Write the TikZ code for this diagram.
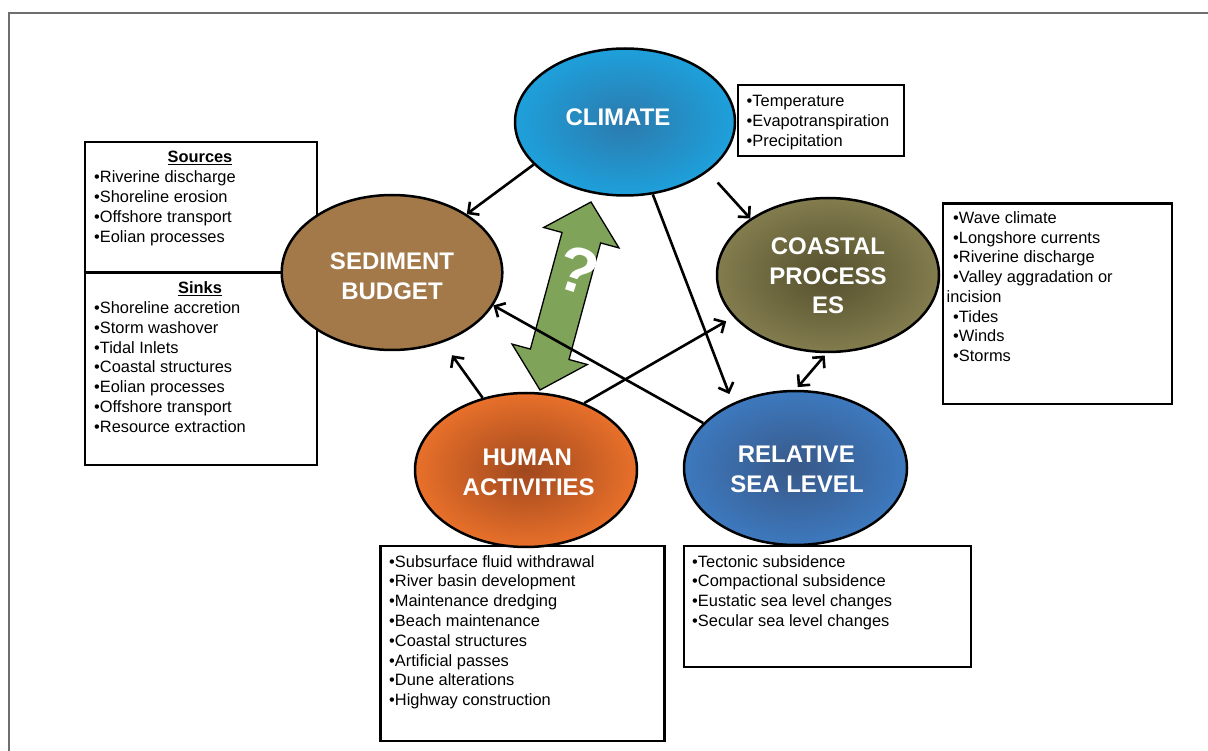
\documentclass[tikz,border=0pt]{standalone}
\usepackage{fontspec}
\setmainfont{Liberation Sans}
\usetikzlibrary{arrows.meta,shapes.geometric}
\definecolor{framegray}{RGB}{110,110,110}
\definecolor{climout}{RGB}{30,160,219}
\definecolor{climin}{RGB}{44,122,172}
\definecolor{sedfill}{RGB}{163,121,74}
\definecolor{coastout}{RGB}{130,124,78}
\definecolor{coastin}{RGB}{86,80,46}
\definecolor{humout}{RGB}{232,112,42}
\definecolor{humin}{RGB}{160,72,30}
\definecolor{rslout}{RGB}{61,121,190}
\definecolor{rslin}{RGB}{56,88,136}
\definecolor{arrowgreen}{RGB}{128,163,90}
\begin{document}
\begin{tikzpicture}[x=1pt,y=-1pt,
  box/.style={draw=black,line width=2.4pt,inner sep=0pt,anchor=north west},
  txt/.style={anchor=base west,inner sep=0pt,font=\fontsize{16.4}{19.8}\selectfont},
  lbl/.style={anchor=base,inner sep=0pt,text=white,font=\fontsize{24}{30}\selectfont\bfseries},
  ell/.style={ellipse,draw=black,line width=2.5pt,inner sep=0pt},
  conn/.style={line width=2.6pt,-{Straight Barb[length=8pt,width=16pt]}},
]
\useasboundingbox (0,0) rectangle (1208,751);
\draw[framegray,line width=1.5pt] (9,751) -- (9,13) -- (1208,13);

% boxes
\node[box,minimum width=166,minimum height=71] (climbox) at (737,84) {};
\node[box,minimum width=232,minimum height=322.5] (srcbox) at (83.5,141) {};
\draw[line width=2.4pt] (83.5,272.5) -- (315.5,272.5);
\node[box,minimum width=229,minimum height=200] (coastbox) at (941.7,202.5) {};
\node[box,minimum width=284,minimum height=195] (humbox) at (379.3,545) {};
\node[box,minimum width=287,minimum height=121] (rslbox) at (683,545) {};

% box texts
\foreach \t [count=\i from 0] in {•Temperature,•Evapotranspiration,•Precipitation}
  \node[txt] (climt\i) at ({746.5},{107+19.6*\i}) {\t};
\node[anchor=base,inner sep=0pt,font=\fontsize{16.4}{19.8}\selectfont\bfseries] (srch) at (200,162.7) {\underline{Sources}};
\foreach \t [count=\i from 0] in {•Riverine discharge,•Shoreline erosion,•Offshore transport,•Eolian processes}
  \node[txt] (srct\i) at ({94},{182.7+19.9*\i}) {\t};
\node[anchor=base,inner sep=0pt,font=\fontsize{16.4}{19.8}\selectfont\bfseries] (snkh) at (200,293.3) {\underline{Sinks}};
\foreach \t [count=\i from 0] in {•Shoreline accretion,•Storm washover,•Tidal Inlets,•Coastal structures,•Eolian processes,•Offshore transport,•Resource extraction}
  \node[txt] (snkt\i) at ({94},{313.3+19.9*\i}) {\t};
\foreach \t [count=\i from 0] in {•Wave climate,•Longshore currents,•Riverine discharge,•Valley aggradation or}
  \node[txt] (coastt\i) at ({953},{223.3+19.75*\i}) {\t};
\node[txt] (coastt4) at (946.5,302.3) {incision};
\foreach \t [count=\i from 5] in {•Tides,•Winds,•Storms}
  \node[txt] (coastt\i) at ({953},{223.3+19.75*\i}) {\t};
\foreach \t [count=\i from 0] in {•Subsurface fluid withdrawal,•River basin development,•Maintenance dredging,•Beach maintenance,•Coastal structures,•Artificial passes,•Dune alterations,•Highway construction}
  \node[txt] (humt\i) at ({389},{567+19.8*\i}) {\t};
\foreach \t [count=\i from 0] in {•Tectonic subsidence,•Compactional subsidence,•Eustatic sea level changes,•Secular sea level changes}
  \node[txt] (rslt\i) at ({692},{567+19.8*\i}) {\t};

% ellipses
\node[ell,minimum width=220,minimum height=147,inner color=climin,outer color=climout] (clim) at (625,122) {};
\node[ell,minimum width=220.6,minimum height=155,fill=sedfill] (sed) at (392,272.5) {};
\node[ell,minimum width=222,minimum height=154,inner color=coastin,outer color=coastout] (coast) at (828,275) {};
\node[ell,minimum width=222,minimum height=154,inner color=humin,outer color=humout] (hum) at (526,470) {};
\node[ell,minimum width=223,minimum height=154,inner color=rslin,outer color=rslout] (rsl) at (795.5,468) {};

\node[lbl] (climl) at (618,126) {CLIMATE};
\node[lbl] (sedl1) at (392,269.3) {SEDIMENT};
\node[lbl] (sedl2) at (392,299.3) {BUDGET};
\node[lbl] (coastl1) at (828,255) {COASTAL};
\node[lbl] (coastl2) at (828,285) {PROCESS};
\node[lbl] (coastl3) at (828,314) {ES};
\node[lbl] (huml1) at (527.2,465) {HUMAN};
\node[lbl] (huml2) at (528.7,495) {ACTIVITIES};
\node[lbl] (rsll1) at (796.3,462.7) {RELATIVE};
\node[lbl] (rsll2) at (797,492.7) {SEA LEVEL};

% green double arrow
\begin{scope}[shift={(565.5,296)},x={(0.2618pt,0.9651pt)},y={(0.9651pt,-0.2618pt)}]
\filldraw[fill=arrowgreen,draw=black,line width=1.3pt,line join=miter]
  (97.4,0) -- (60.4,39) -- (60.4,20) -- (-60.4,20) -- (-60.4,39) -- (-97.4,0)
  -- (-60.4,-39) -- (-60.4,-20) -- (60.4,-20) -- (60.4,-39) -- cycle;
\end{scope}
\node[text=white,inner sep=0pt,rotate=-18,font=\fontsize{64}{64}\selectfont\bfseries] (qm) at (578,270) {?};

% connectors
\draw[conn] (clim.205) -- (sed.38.8);
\draw[conn,shorten <=14.5pt] (clim.329.3) -- (coast.144.4);
\draw[conn,shorten >=9.6pt] (clim.291.4) -- (rsl.134.1);
\draw[conn,shorten >=15.6pt] (hum.121.4) -- (sed.306.9);
\draw[conn,shorten >=8.3pt] (hum.49.2) -- (coast.204.7);
\draw[conn] (rsl.154.1) -- (sed.342);
\draw[line width=2.6pt,{Straight Barb[length=8pt,width=16pt]}-{Straight Barb[length=8pt,width=16pt]},shorten <=3pt,shorten >=3.5pt] (coast.269) -- (rsl.90);
\end{tikzpicture}
\end{document}
